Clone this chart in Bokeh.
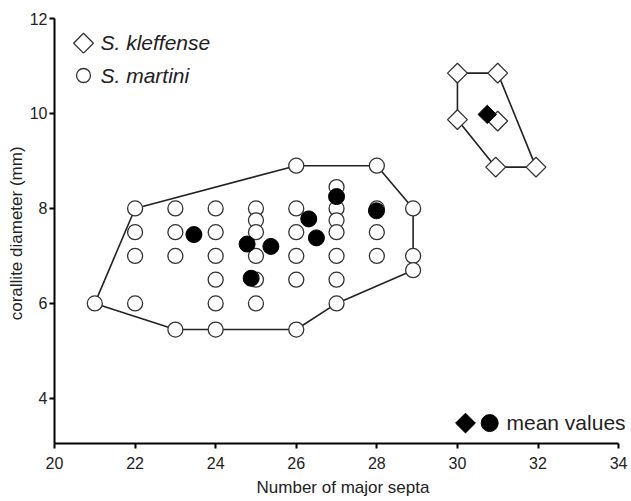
import math
from bokeh.plotting import figure
from bokeh.models import Range1d, FixedTicker, Label
from bokeh.embed import file_html
from bokeh.resources import INLINE

# ---- data ----
martini_x = [21,
             22, 22, 22, 22,
             23, 23, 23, 23,
             24, 24, 24, 24, 24, 24,
             25, 25, 25, 25, 25, 25,
             26, 26, 26, 26, 26, 26,
             27, 27, 27, 27, 27, 27, 27,
             28, 28, 28, 28,
             28.9, 28.9, 28.9]
martini_y = [6.0,
             8.0, 7.5, 7.0, 6.0,
             8.0, 7.5, 7.0, 5.45,
             8.0, 7.5, 7.0, 6.5, 6.0, 5.45,
             8.0, 7.75, 7.5, 7.0, 6.5, 6.0,
             8.9, 8.0, 7.5, 7.0, 6.5, 5.45,
             8.45, 8.0, 7.75, 7.5, 7.0, 6.5, 6.0,
             8.9, 8.0, 7.5, 7.0,
             8.0, 7.0, 6.7]
martini_mean_x = [23.46, 24.78, 24.88, 25.37, 26.31, 26.5, 27.0, 27.99]
martini_mean_y = [7.45, 7.25, 6.53, 7.2, 7.78, 7.38, 8.25, 7.95]

kleffense_x = [30, 31, 30, 31, 30.95, 31.95]
kleffense_y = [10.85, 10.85, 9.87, 9.84, 8.87, 8.87]
kleffense_mean_x = [30.74]
kleffense_mean_y = [9.98]

martini_hull_x = [21, 22, 26, 28, 28.9, 28.9, 28.9, 27, 26, 23, 21]
martini_hull_y = [6.0, 8.0, 8.9, 8.9, 8.0, 7.0, 6.7, 6.0, 5.45, 5.45, 6.0]
kleffense_hull_x = [30, 31, 31.95, 30.95, 30, 30]
kleffense_hull_y = [10.85, 10.85, 8.87, 8.87, 9.87, 10.85]

x_ticks = [20, 22, 24, 26, 28, 30, 32, 34]
y_ticks = [4, 6, 8, 10, 12]

FONT = "Liberation Sans"
ROT = math.pi / 4

p = figure(width=631, height=501, output_backend="svg", toolbar_location=None,
           x_range=Range1d(20, 34.32), y_range=Range1d(3.05, 12),
           min_border_left=54, min_border_right=0, min_border_top=18, min_border_bottom=58)
p.frame_width = 577
p.frame_height = 425
p.outline_line_color = None
p.grid.visible = False
p.background_fill_color = "white"
p.border_fill_color = "white"

for ax in (p.xaxis[0], p.yaxis[0]):
    ax.axis_line_width = 2
    ax.major_tick_line_width = 2
    ax.minor_tick_line_color = None
    ax.major_tick_in = 0
    ax.major_tick_out = 5
    ax.major_label_text_font = FONT
    ax.major_label_text_font_size = "16px"
    ax.major_label_text_color = "#222222"
    ax.axis_label_text_font = FONT
    ax.axis_label_text_font_style = "normal"
    ax.axis_label_text_font_size = "17px"
    ax.axis_label_text_color = "#222222"

p.xaxis.bounds = (20, 34)
p.xaxis.ticker = FixedTicker(ticks=x_ticks)
p.yaxis.ticker = FixedTicker(ticks=y_ticks)
p.xaxis.axis_label = "Number of major septa"
p.yaxis.axis_label = "corallite diameter  (mm)"
p.xaxis.major_label_standoff = 8
p.xaxis.axis_label_standoff = 6
p.yaxis.major_label_standoff = 2
p.yaxis.axis_label_standoff = 1

# hulls
p.line(martini_hull_x, martini_hull_y, line_color="#222222", line_width=1.6)
p.line(kleffense_hull_x, kleffense_hull_y, line_color="#222222", line_width=1.6)

# points
p.scatter(martini_x, martini_y, marker="circle", size=15, fill_color="white",
          line_color="#333333", line_width=1.3)
p.scatter(kleffense_x, kleffense_y, marker="square", angle=ROT, size=14, fill_color="white",
          line_color="#333333", line_width=1.3)
p.scatter(martini_mean_x, martini_mean_y, marker="circle", size=16, fill_color="black",
          line_color="black")
p.scatter(kleffense_mean_x, kleffense_mean_y, marker="square", angle=ROT, size=13,
          fill_color="black", line_color="black")

# legend (decorative markers positioned in data space)
legend_marker_x = [20.72]
legend_diamond_y = [11.48]
legend_circle_y = [10.8]
p.scatter(legend_marker_x, legend_diamond_y, marker="square", angle=ROT, size=14,
          fill_color="white", line_color="#333333", line_width=1.3)
p.scatter(legend_marker_x, legend_circle_y, marker="circle", size=14, fill_color="white",
          line_color="#333333", line_width=1.3)
p.add_layout(Label(x=46, y=401, x_units="screen", y_units="screen",
                   text="S. kleffense", text_font=FONT, text_font_style="italic",
                   text_font_size="21px", text_baseline="middle", text_color="#222222"))
p.add_layout(Label(x=46, y=368, x_units="screen", y_units="screen",
                   text="S. martini", text_font=FONT, text_font_style="italic",
                   text_font_size="21px", text_baseline="middle", text_color="#222222"))

mean_marker_y = [3.48]
p.scatter([30.2], mean_marker_y, marker="square", angle=ROT, size=14, fill_color="black",
          line_color="black")
p.scatter([30.8], mean_marker_y, marker="circle", size=17, fill_color="black", line_color="black")
p.add_layout(Label(x=452, y=21, x_units="screen", y_units="screen",
                   text="mean values", text_font=FONT, text_font_size="21px",
                   text_baseline="middle", text_color="#222222"))

open("out.html", "w").write(file_html(p, INLINE))
